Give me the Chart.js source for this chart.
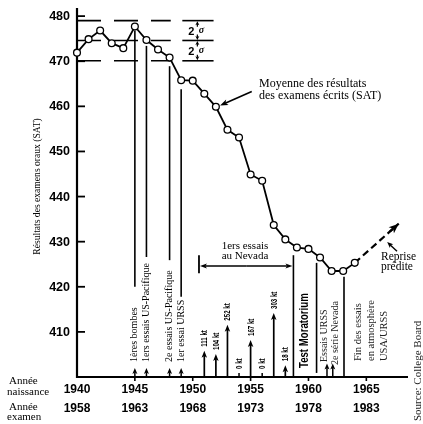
<!DOCTYPE html>
<html>
<head>
<meta charset="utf-8">
<script src="https://cdn.jsdelivr.net/npm/chart.js@4/dist/chart.umd.min.js"></script>
<style>
    html, body { margin: 0; padding: 0; background: #fff; }
    #satChart { display: block; }
</style>
</head>
<body>
<canvas id="satChart" width="423" height="424" style="width:423px;height:424px"></canvas>
<script>
// SAT means by birth year
const birthYearsSat = [1940, 1941, 1942, 1943, 1944, 1945, 1946, 1947, 1948, 1949, 1950, 1951, 1952,
    1953, 1954, 1955, 1956, 1957, 1958, 1959, 1960, 1961, 1962, 1963, 1964];
const satScores = [471.9, 474.9, 476.8, 474.0, 472.9, 477.7, 474.7, 472.6, 470.8, 465.8, 465.7, 462.8, 459.9,
    454.8, 453.1, 444.9, 443.5, 433.7, 430.5, 428.7, 428.4, 426.5, 423.5, 423.5, 425.3];

// Predicted recovery (dashed)
const forecastYears = [1964, 1967.8];
const forecastScores = [425.3, 434.0];

// Mean and +/- 2 sigma levels
const sigmaLevels = [479.0, 474.6, 470.1];

// Axis ticks
const yTicks = [410, 420, 430, 440, 450, 460, 470, 480];
const birthYearTicks = [1940, 1945, 1950, 1955, 1960, 1965];
const examYearTicks = [1958, 1963, 1968, 1973, 1978, 1983];

// Nevada test arrows (kilotons)
const testYears = [1951, 1952, 1953, 1954, 1955, 1956, 1957, 1958];
const testKt = [111, 104, 252, 0, 167, 0, 303, 18];
const testArrowTops = [405.8, 405.1, 411.6, 400.9, 408.2, 400.9, 414.2, 402.6];

// Event lines (year, top value, bottom value)
const eventLineYears = [1945, 1946, 1948, 1949, 1958.7, 1960.7, 1963.07];
const eventLineTops = [476.8, 473.4, 468.9, 463.8, 427.0, 425.3, 422.2];
const eventLineBottoms = [420.0, 426.6, 425.9, 417.8, 400.0, 400.9, 400.0];

// Small event arrows on the axis
const eventArrowYears = [1945, 1946, 1948, 1949, 1961.6, 1962.1];
const eventArrowTops = [402.0, 402.0, 402.0, 402.0, 403.0, 403.0];

// Event labels (rotated)
const eventLabels = ['1ères bombes', '1ers essais US-Pacifique', '2e essais US-Pacifique', '1er essai URSS'];
const eventLabelYears = [1945, 1946, 1948, 1949];

const SERIF = "'Liberation Serif', 'DejaVu Serif', serif";
const SANS = "'Liberation Sans', Arial, sans-serif";

// Helpers
function arrow(ctx, x1, y1, x2, y2, len, wid, lw) {
    const a = Math.atan2(y2 - y1, x2 - x1);
    ctx.save();
    ctx.lineWidth = lw;
    ctx.beginPath();
    ctx.moveTo(x1, y1);
    ctx.lineTo(x2 - Math.cos(a) * len * 0.7, y2 - Math.sin(a) * len * 0.7);
    ctx.stroke();
    ctx.translate(x2, y2);
    ctx.rotate(a);
    ctx.beginPath();
    ctx.moveTo(0, 0);
    ctx.lineTo(-len, -wid / 2);
    ctx.lineTo(-len * 0.75, 0);
    ctx.lineTo(-len, wid / 2);
    ctx.closePath();
    ctx.fill();
    ctx.restore();
}

function vText(ctx, text, x, yBottom, font, squeeze) {
    ctx.save();
    ctx.translate(x, yBottom);
    ctx.rotate(-Math.PI / 2);
    ctx.scale(squeeze || 1, 1);
    ctx.font = font;
    ctx.textAlign = 'left';
    ctx.textBaseline = 'middle';
    ctx.fillText(text, 0, 0);
    ctx.restore();
}

function line(ctx, x1, y1, x2, y2, lw) {
    ctx.lineWidth = lw;
    ctx.beginPath();
    ctx.moveTo(x1, y1);
    ctx.lineTo(x2, y2);
    ctx.stroke();
}

// Background, axes, reference lines (under the data)
const underlayPlugin = {
    id: 'underlay',
    beforeDraw(chart) {
        const ctx = chart.ctx;
        ctx.save();
        ctx.fillStyle = '#fff';
        ctx.fillRect(0, 0, chart.width, chart.height);
        ctx.restore();
    },
    beforeDatasetsDraw(chart) {
        const ctx = chart.ctx;
        const xs = chart.scales.x;
        const ys = chart.scales.y;
        const px = v => xs.getPixelForValue(v);
        const py = v => ys.getPixelForValue(v);
        const area = chart.chartArea;

        ctx.save();
        ctx.strokeStyle = '#000';
        ctx.fillStyle = '#000';

        // sigma lines: dashed part then solid bracket part
        sigmaLevels.forEach(lv => {
            ctx.setLineDash([24, 13]);
            line(ctx, px(1940), py(lv), px(1948.1), py(lv), 1.6);
            ctx.setLineDash([]);
            line(ctx, px(1949.1), py(lv), px(1951.8), py(lv), 1.6);
        });

        // 2 sigma markers
        const sx = px(1950.4);
        for (let i = 0; i < 2; i++) {
            const yTop = py(sigmaLevels[i]);
            const yBot = py(sigmaLevels[i + 1]);
            arrow(ctx, sx, yTop + 6, sx, yTop + 0.5, 4, 4, 1.2);
            arrow(ctx, sx, yBot - 6, sx, yBot - 0.5, 4, 4, 1.2);
            const ym = (yTop + yBot) / 2;
            ctx.font = 'bold 11px ' + SANS;
            ctx.textAlign = 'center';
            ctx.textBaseline = 'middle';
            ctx.fillText('2', sx - 6, ym + 1);
            ctx.font = 'italic bold 10px ' + SERIF;
            ctx.fillText('σ', sx + 4, ym);
        }

        // event lines
        eventLineYears.forEach((yr, i) => {
            line(ctx, px(yr), py(eventLineTops[i]), px(yr), py(eventLineBottoms[i]), 1.6);
        });

        // Nevada bracket
        const nevY = py(424.6);
        line(ctx, px(1950.54), py(427.0), px(1950.54), py(423.0), 1.8);
        arrow(ctx, (px(1950.54) + px(1958.7)) / 2, nevY, px(1950.54) + 1, nevY, 7, 5, 1.4);
        arrow(ctx, (px(1950.54) + px(1958.7)) / 2, nevY, px(1958.7) - 1, nevY, 7, 5, 1.4);

        // axes
        line(ctx, area.left, area.top, area.left, area.bottom + 1, 2.2);
        line(ctx, area.left - 1, area.bottom, area.right, area.bottom, 2.2);

        // y ticks and labels
        ctx.font = 'bold 12.5px ' + SANS;
        ctx.textAlign = 'right';
        ctx.textBaseline = 'middle';
        yTicks.forEach(t => {
            line(ctx, area.left, py(t), area.left + 8, py(t), 1.8);
            ctx.fillText(String(t), area.left - 7, py(t) + 0.5);
        });

        // x ticks and two rows of labels
        ctx.font = 'bold 12px ' + SANS;
        ctx.textAlign = 'center';
        birthYearTicks.forEach((t, i) => {
            if (i > 0) line(ctx, px(t), area.bottom, px(t), area.bottom + 4, 1.6);
            ctx.fillText(String(t), px(t), 390);
            ctx.fillText(String(examYearTicks[i]), px(t), 408.5);
        });

        ctx.restore();
    },
    afterDatasetsDraw(chart) {
        const ctx = chart.ctx;
        const xs = chart.scales.x;
        const ys = chart.scales.y;
        const px = v => xs.getPixelForValue(v);
        const py = v => ys.getPixelForValue(v);
        const base = py(400);

        ctx.save();
        ctx.strokeStyle = '#000';
        ctx.fillStyle = '#000';

        // forecast arrowhead
        const n = forecastYears.length - 1;
        arrow(ctx, px(forecastYears[n - 1]) + (px(forecastYears[n]) - px(forecastYears[n - 1])) * 0.8,
            py(forecastScores[n - 1]) + (py(forecastScores[n]) - py(forecastScores[n - 1])) * 0.8,
            px(forecastYears[n]), py(forecastScores[n]), 10, 8, 2.2);

        // small event arrows
        eventArrowYears.forEach((yr, i) => {
            arrow(ctx, px(yr), base, px(yr), py(eventArrowTops[i]), 6, 5, 1.5);
        });

        // kiloton arrows and labels
        testYears.forEach((yr, i) => {
            const top = py(testArrowTops[i]);
            if (testKt[i] > 0) {
                arrow(ctx, px(yr), base, px(yr), top, 7, 5.5, 1.7);
            } else {
                line(ctx, px(yr), base, px(yr), top, 1.5);
            }
            vText(ctx, testKt[i] + ' kt', px(yr) + 0.5, top - 4, 'bold 9px ' + SANS, 0.68);
        });

        // event labels
        eventLabelYears.forEach((yr, i) => {
            vText(ctx, eventLabels[i], px(yr), 362, '10px ' + SERIF, 1);
        });
        vText(ctx, 'Test Moratorium', px(1959.7), 368, 'bold 12.5px ' + SANS, 0.77);
        ctx.fillStyle = '#222';
        vText(ctx, 'Essais URSS', px(1961.35), 362, '10px ' + SERIF, 1);
        vText(ctx, '2e série Nevada', px(1962.35), 365, '10px ' + SERIF, 1);
        vText(ctx, 'Fin des essais', 358, 361, '10.5px ' + SERIF, 1);
        vText(ctx, 'en atmosphère', 371, 361, '10.5px ' + SERIF, 1);
        vText(ctx, 'USA/URSS', 384, 361, '10.5px ' + SERIF, 1);
        vText(ctx, 'Source: College Board', 418, 421, '11px ' + SERIF, 1);
        ctx.fillStyle = '#000';

        // pointer: mean of written exams
        arrow(ctx, px(1955.1), py(463.3), px(1952.36), py(460.2), 8, 6, 1.6);
        ctx.font = '12px ' + SERIF;
        ctx.textAlign = 'left';
        ctx.textBaseline = 'middle';
        ctx.fillText('Moyenne des résultats', 259, 84);
        ctx.fillText('des examens écrits (SAT)', 259, 96);

        // pointer: predicted recovery
        arrow(ctx, px(1967.65), py(427.9), px(1966.8), py(429.9), 6, 5, 1.4);
        ctx.font = '11.5px ' + SERIF;
        ctx.fillText('Reprise', 381, 257);
        ctx.fillText('prédite', 381, 267);

        // Nevada text
        ctx.font = '11px ' + SERIF;
        ctx.textAlign = 'center';
        ctx.fillText('1ers essais', 245, 246);
        ctx.fillText('au Nevada', 245, 256.5);

        // y axis title
        ctx.save();
        ctx.translate(37, 186.5);
        ctx.rotate(-Math.PI / 2);
        ctx.font = '9.6px ' + SERIF;
        ctx.textAlign = 'center';
        ctx.textBaseline = 'middle';
        ctx.fillText('Résultats des examens oraux (SAT)', 0, 0);
        ctx.restore();

        // bottom-left row labels
        ctx.font = '11px ' + SERIF;
        ctx.textAlign = 'left';
        ctx.fillText('Année', 9, 381.5);
        ctx.fillText('naissance', 7, 392);
        ctx.fillText('Année', 9, 407);
        ctx.fillText('examen', 7, 417.5);

        ctx.restore();
    }
};

const satCtx = document.getElementById('satChart').getContext('2d');
const satChart = new Chart(satCtx, {
    type: 'line',
    data: {
        datasets: [{
            label: 'SAT',
            data: birthYearsSat.map((yr, i) => ({ x: yr, y: satScores[i] })),
            borderColor: '#000',
            borderWidth: 1.8,
            pointRadius: 3.4,
            pointBackgroundColor: '#fff',
            pointBorderColor: '#000',
            pointBorderWidth: 1.3,
            tension: 0,
            clip: false
        }, {
            label: 'Reprise prédite',
            data: forecastYears.map((yr, i) => ({ x: yr, y: forecastScores[i] })),
            borderColor: '#000',
            borderWidth: 2.2,
            borderDash: [7, 4],
            pointRadius: 0,
            tension: 0,
            clip: false,
            order: 1
        }]
    },
    options: {
        responsive: false,
        animation: false,
        events: [],
        layout: {
            padding: { left: 77, right: 15, top: 8, bottom: 47 }
        },
        plugins: {
            legend: { display: false },
            tooltip: { enabled: false }
        },
        scales: {
            x: { type: 'linear', min: 1940, max: 1968.6, display: false },
            y: { type: 'linear', min: 400, max: 481.8, display: false }
        }
    },
    plugins: [underlayPlugin]
});
</script>
</body>
</html>
